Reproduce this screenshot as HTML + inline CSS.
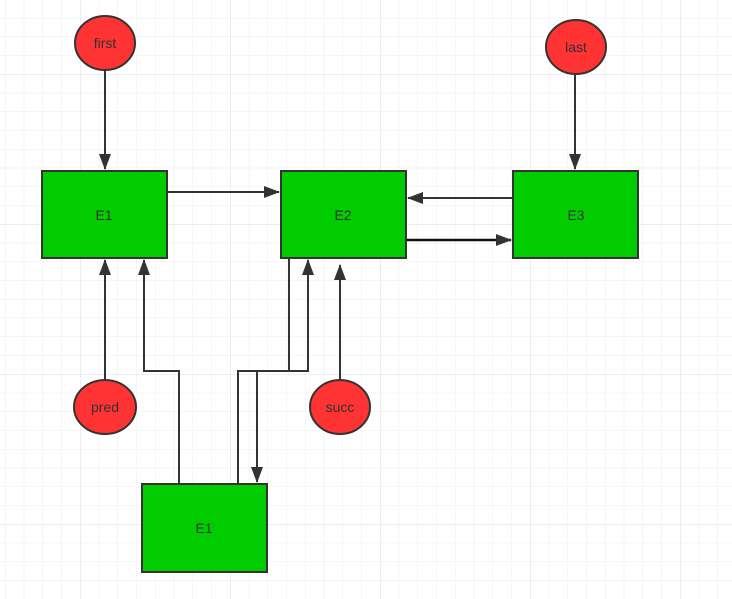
<!DOCTYPE html>
<html><head><style>
html,body{margin:0;padding:0;background:#fff;}
svg{display:block;}
text{font-family:"Liberation Sans",sans-serif;font-size:14px;fill:#333;}
</style></head><body>
<svg width="732" height="599" xmlns="http://www.w3.org/2000/svg">
<defs>
<pattern id="minor" x="5" y="17.75" width="18.75" height="18.75" patternUnits="userSpaceOnUse">
<path d="M0 0H18.75M0 0V18.75" stroke="#ececec" stroke-width="1" fill="none"/>
</pattern>
<pattern id="major" x="80" y="74" width="150" height="150" patternUnits="userSpaceOnUse">
<path d="M0 0H150M0 0V150" stroke="#dcdcdc" stroke-width="1" fill="none"/>
</pattern>
<marker id="ar" markerWidth="10" markerHeight="10" refX="9" refY="5" orient="auto" markerUnits="userSpaceOnUse">
<path d="M0 0L10 5L0 10z" fill="#333"/>
</marker>
<marker id="arb" markerWidth="16" markerHeight="12" refX="15" refY="6" orient="auto" markerUnits="userSpaceOnUse">
<path d="M0 0L16 6L0 12z" fill="#333"/>
</marker>
</defs>
<rect width="732" height="599" fill="url(#minor)"/>
<rect width="732" height="599" fill="url(#major)"/>
<g stroke="#333" stroke-width="2" fill="none">
<path d="M105 71V169" marker-end="url(#arb)"/>
<path d="M575 75V169" marker-end="url(#arb)"/>
<path d="M167 192H279" marker-end="url(#arb)"/>
<path d="M513 198H408" marker-end="url(#arb)"/>
<path d="M406 240H511" stroke="#111" stroke-width="2.5" marker-end="url(#arb)"/>
<path d="M105 379V260" marker-end="url(#arb)"/>
<path d="M340 379V265" marker-end="url(#arb)"/>
<path d="M179 484V371H144V260" marker-end="url(#arb)"/>
<path d="M238 484V371H308V260" marker-end="url(#arb)"/>
<path d="M289 258V371H257V482" marker-end="url(#arb)"/>
</g>
<g stroke="#333" stroke-width="2" fill="#00cc00">
<rect x="42" y="171" width="125" height="87"/>
<rect x="281" y="171" width="125" height="87"/>
<rect x="513" y="171" width="125" height="87"/>
<rect x="142" y="484" width="125" height="88"/>
</g>
<g stroke="#333" stroke-width="2" fill="#ff3333">
<ellipse cx="105" cy="43" rx="30" ry="27"/>
<ellipse cx="576" cy="47" rx="30" ry="27"/>
<ellipse cx="105" cy="407" rx="31" ry="27"/>
<ellipse cx="340" cy="407" rx="30" ry="27"/>
</g>
<g text-anchor="middle">
<text x="105" y="48">first</text>
<text x="576" y="52">last</text>
<text x="105" y="412">pred</text>
<text x="340" y="412">succ</text>
<text x="104" y="220">E1</text>
<text x="343" y="220">E2</text>
<text x="576" y="220">E3</text>
<text x="204" y="533">E1</text>
</g>
</svg>
</body></html>
